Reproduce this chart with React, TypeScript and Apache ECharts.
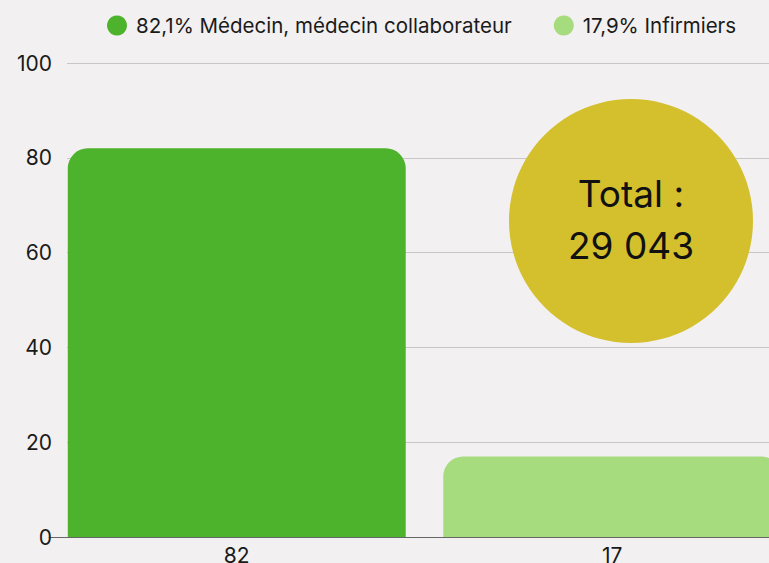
import React, { useEffect, useRef } from "react";
import * as echarts from "echarts";

const categories = ["82", "17"];
const seriesNames = ["82,1% Médecin, médecin collaborateur", "17,9% Infirmiers"];
const seriesValues = [82, 17];
const seriesColors = ["#4db22c", "#a6db7e"];
const yTicks = [0, 20, 40, 60, 80, 100];
const totalLabel = "Total :\n29 043";

export default function App() {
  const ref = useRef<HTMLDivElement>(null);
  useEffect(() => {
    if (!ref.current) return;
    const chart = echarts.init(ref.current, null, { renderer: "svg" });
    const font = "Inter, 'Noto Sans', sans-serif";
    chart.setOption({
      animation: false,
      backgroundColor: "#f2f0f0",
      textStyle: { fontFamily: font },
      legend: {
        top: 15,
        left: 107,
        padding: 0,
        icon: "circle",
        itemWidth: 20,
        itemHeight: 20,
        itemGap: 42,
        textStyle: { fontSize: 20.5, color: "#1a1a1a", fontFamily: font, padding: [0, 0, 0, 4] },
        data: seriesNames,
      },
      grid: [
        { left: 49, width: 751, top: 63, bottom: 26, outerBoundsMode: "none", containLabel: false },
        { left: 67, right: 0, top: 63, bottom: 26, outerBoundsMode: "none", containLabel: false },
      ],
      xAxis: [
        {
          gridIndex: 0,
          type: "category",
          data: categories,
          axisLine: { show: true, lineStyle: { color: "#666", width: 1 } },
          axisTick: { show: false },
          axisLabel: { fontSize: 21, color: "#1a1a1a", margin: 8, fontFamily: font },
        },
        {
          gridIndex: 1,
          type: "value",
          show: false,
        },
      ],
      yAxis: [
        {
          gridIndex: 0,
          type: "value",
          min: 0,
          max: 100,
          interval: 20,
          show: false,
        },
        {
          gridIndex: 1,
          type: "value",
          min: yTicks[0],
          max: yTicks[yTicks.length - 1],
          interval: 20,
          axisLine: { show: false },
          axisTick: { show: false },
          axisLabel: { fontSize: 21, color: "#1a1a1a", margin: 15, fontFamily: font },
          splitLine: { show: true, lineStyle: { color: "#c8c6c6", width: 1 } },
        },
      ],
      series: [
        ...seriesNames.map((name, i) => ({
          name,
          type: "bar",
          xAxisIndex: 0,
          yAxisIndex: 0,
          stack: "all",
          barWidth: "90%",
          itemStyle: { color: seriesColors[i], borderRadius: [20, 20, 0, 0] },
          data: categories.map((_, j) => (j === i ? seriesValues[i] : null)),
        })),
      ],
      graphic: [
        {
          type: "circle",
          shape: { cx: 631, cy: 221, r: 122 },
          style: { fill: "#d4bf2d" },
          z: 10,
        },
        {
          type: "text",
          x: 631,
          y: 219,
          z: 11,
          style: {
            text: totalLabel,
            fontSize: 37,
            lineHeight: 52,
            fill: "#111",
            fontFamily: font,
            align: "center",
            verticalAlign: "middle",
          },
        },
      ],
    });
    return () => chart.dispose();
  }, []);
  return <div ref={ref} style={{ width: 769, height: 563, position: "absolute", left: 0, top: 0 }} />;
}
